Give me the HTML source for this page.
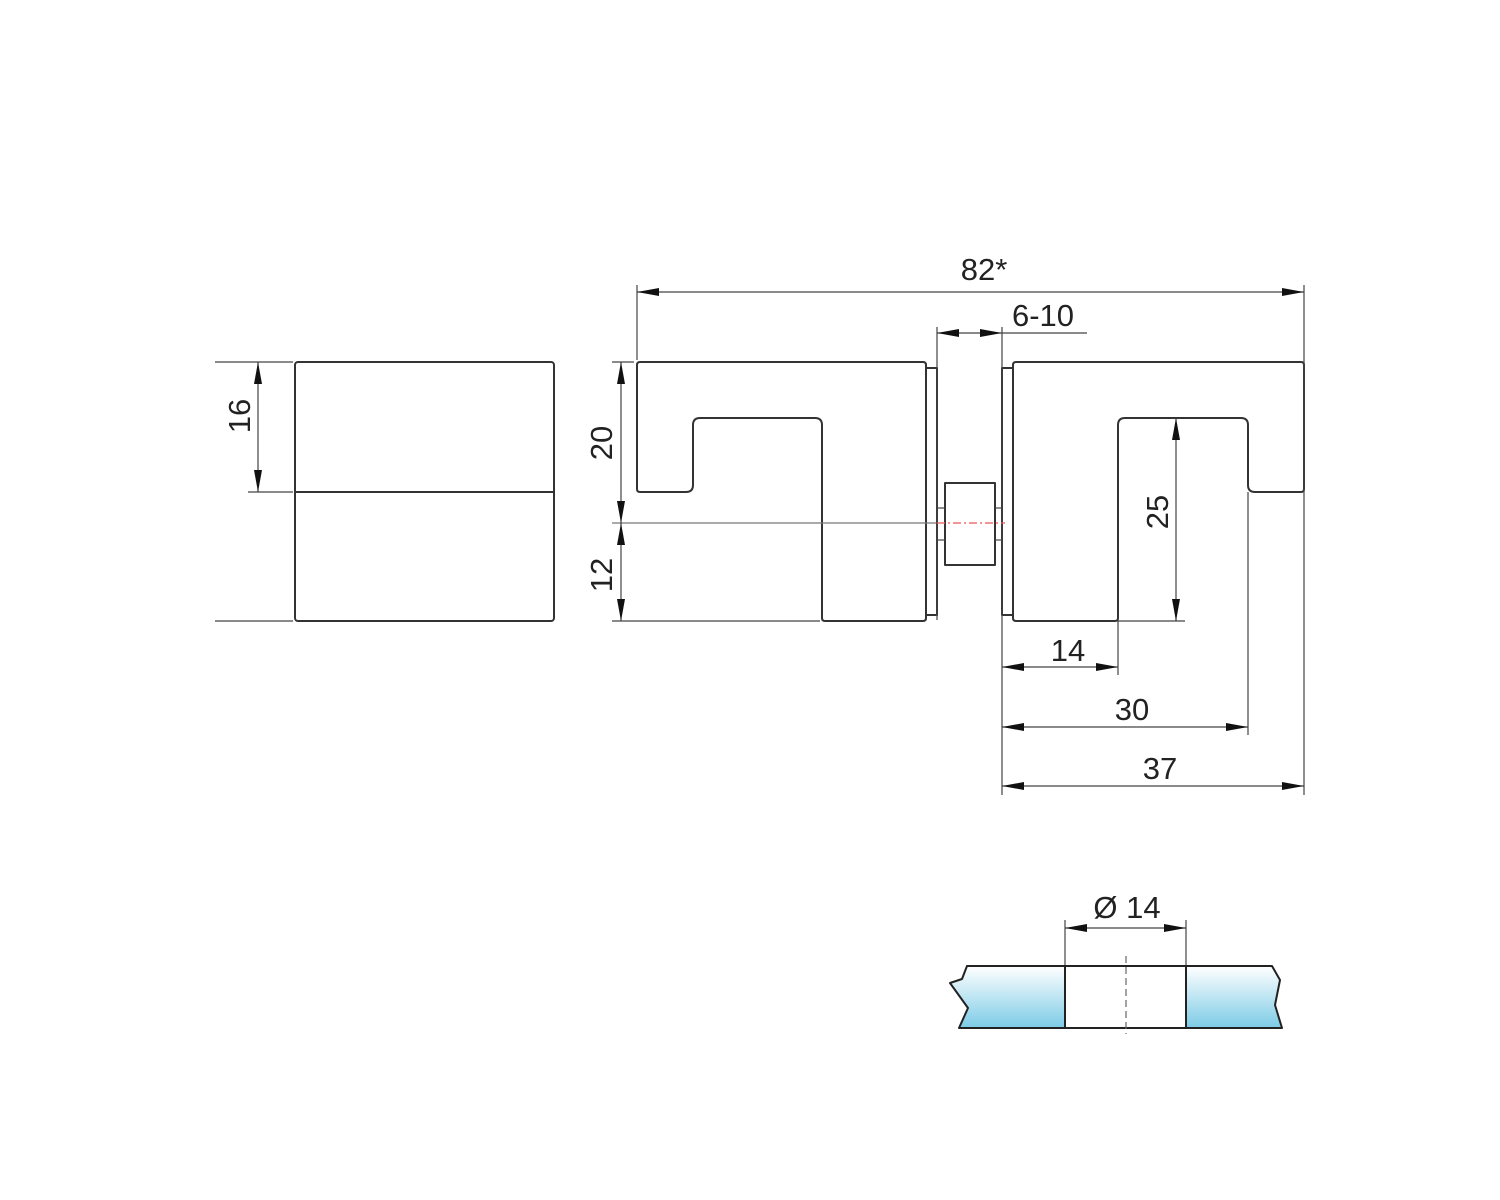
<!DOCTYPE html>
<html><head><meta charset="utf-8"><style>
html,body{margin:0;padding:0;background:#fff;}
svg{display:block;}
text{font-family:"Liberation Sans",sans-serif;font-size:31px;fill:#222;}
</style></head><body>
<svg width="1500" height="1200" viewBox="0 0 1500 1200" xmlns="http://www.w3.org/2000/svg">
<defs>
<marker id="a" viewBox="0 0 22 8" refX="22" refY="4" markerWidth="22" markerHeight="8" markerUnits="userSpaceOnUse" orient="auto-start-reverse">
<path d="M0,0 L22,4 L0,8 Z" fill="#111"/>
</marker>
<linearGradient id="g" x1="0" y1="0" x2="0" y2="1">
<stop offset="0" stop-color="#ffffff"/><stop offset="1" stop-color="#7ccbe6"/>
</linearGradient>
</defs>
<g fill="none" stroke="#333" stroke-width="2" stroke-linejoin="round">
<!-- left block -->
<rect x="295" y="362" width="259" height="259" rx="3"/>
<line x1="295" y1="492" x2="554" y2="492"/>
<!-- middle left piece -->
<path d="M640,362 H923 Q926,362 926,365 V618 Q926,621 923,621 H825 Q822,621 822,618 V425 Q822,418 815,418 H700 Q693,418 693,425 V485 Q693,492 686,492 H640 Q637,492 637,489 V365 Q637,362 640,362 Z"/>
<rect x="926" y="368" width="11" height="247"/>
<!-- spacer -->
<rect x="945" y="483" width="50" height="82"/>
<!-- right piece -->
<rect x="1002" y="368" width="11" height="247"/>
<path d="M1016,362 H1301 Q1304,362 1304,365 V489 Q1304,492 1301,492 H1255 Q1248,492 1248,485 V425 Q1248,418 1241,418 H1125 Q1118,418 1118,425 V618 Q1118,621 1115,621 H1016 Q1013,621 1013,618 V365 Q1013,362 1016,362 Z"/>
</g>
<g fill="none" stroke="#444" stroke-width="1.2">
<!-- stubs -->
<line x1="937" y1="508" x2="945" y2="508"/><line x1="937" y1="540" x2="945" y2="540"/>
<line x1="995" y1="508" x2="1002" y2="508"/><line x1="995" y1="540" x2="1002" y2="540"/>
<!-- center line -->
<line x1="612" y1="523" x2="937" y2="523" stroke="#777"/>
<!-- left block dims -->
<line x1="215" y1="362" x2="293" y2="362"/>
<line x1="248" y1="492" x2="293" y2="492"/>
<line x1="215" y1="621" x2="293" y2="621"/>
<line x1="258" y1="362" x2="258" y2="492" marker-start="url(#a)" marker-end="url(#a)"/>
<!-- 20 / 12 -->
<line x1="612" y1="362" x2="634" y2="362"/>
<line x1="612" y1="621" x2="820" y2="621"/>
<line x1="621" y1="362" x2="621" y2="523" marker-start="url(#a)" marker-end="url(#a)"/>
<line x1="621" y1="523" x2="621" y2="621" marker-start="url(#a)" marker-end="url(#a)"/>
<!-- 82* -->
<line x1="637" y1="285" x2="637" y2="360"/>
<line x1="1304" y1="285" x2="1304" y2="795"/>
<line x1="637" y1="292" x2="1304" y2="292" marker-start="url(#a)" marker-end="url(#a)"/>
<!-- 6-10 -->
<line x1="937" y1="327" x2="937" y2="620"/>
<line x1="1002" y1="327" x2="1002" y2="795"/>
<line x1="937" y1="333" x2="1002" y2="333" marker-start="url(#a)" marker-end="url(#a)"/>
<line x1="1002" y1="333" x2="1087" y2="333"/>
<!-- 25 -->
<line x1="1118" y1="621" x2="1185" y2="621"/>
<line x1="1176" y1="418" x2="1176" y2="621" marker-start="url(#a)" marker-end="url(#a)"/>
<!-- 14 30 37 -->
<line x1="1118" y1="621" x2="1118" y2="675"/>
<line x1="1248" y1="492" x2="1248" y2="735"/>
<line x1="1002" y1="667" x2="1118" y2="667" marker-start="url(#a)" marker-end="url(#a)"/>
<line x1="1002" y1="727" x2="1248" y2="727" marker-start="url(#a)" marker-end="url(#a)"/>
<line x1="1002" y1="786" x2="1304" y2="786" marker-start="url(#a)" marker-end="url(#a)"/>
<!-- Ø14 -->
<line x1="1065" y1="920" x2="1065" y2="966"/>
<line x1="1186" y1="920" x2="1186" y2="966"/>
<line x1="1065" y1="928" x2="1186" y2="928" marker-start="url(#a)" marker-end="url(#a)"/>
</g>
<line x1="937" y1="523" x2="1005" y2="523" stroke="#e55" stroke-width="1.2" stroke-dasharray="8,3,2,3"/>
<!-- glass -->
<path d="M967,966 H1065 V1028 H959 L968,1008 L950,983 L962,979 Z" fill="url(#g)" stroke="#222" stroke-width="2" stroke-linejoin="round"/>
<path d="M1186,966 H1272 L1280,980 L1275,1005 L1282,1028 H1186 Z" fill="url(#g)" stroke="#222" stroke-width="2" stroke-linejoin="round"/>
<line x1="1065" y1="966" x2="1186" y2="966" stroke="#222" stroke-width="2"/>
<line x1="1065" y1="1028" x2="1186" y2="1028" stroke="#222" stroke-width="2"/>
<line x1="1126" y1="956" x2="1126" y2="1034" stroke="#666" stroke-width="1.2" stroke-dasharray="7,4"/>
<!-- texts -->
<text x="984" y="280" text-anchor="middle">82*</text>
<text x="1043" y="326" text-anchor="middle">6-10</text>
<text x="1068" y="661" text-anchor="middle">14</text>
<text x="1132" y="720" text-anchor="middle">30</text>
<text x="1160" y="779" text-anchor="middle">37</text>
<text x="1127" y="918" text-anchor="middle">Ø 14</text>
<text transform="translate(250,416) rotate(-90)" text-anchor="middle">16</text>
<text transform="translate(612,443) rotate(-90)" text-anchor="middle">20</text>
<text transform="translate(612,575) rotate(-90)" text-anchor="middle">12</text>
<text transform="translate(1168,512) rotate(-90)" text-anchor="middle">25</text>
</svg>
</body></html>
